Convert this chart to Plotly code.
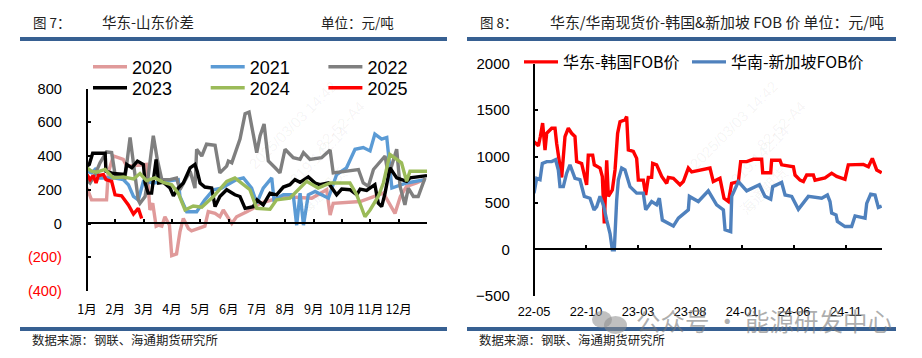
import plotly.graph_objects as go

W, H = 922, 358
months = ["1月","2月","3月","4月","5月","6月","7月","8月","9月","10月","11月","12月"]
left_yticks = [-400,-200,0,200,400,600,800]
left_ylabels = ['<span style="color:#ff0000">(400)</span>','<span style="color:#ff0000">(200)</span>',"0","200","400","600","800"]
right_xticks = [0,5,10,15,20,25,30]
right_xlabels = ["22-05","22-10","23-03","23-08","24-01","24-06","24-11"]

x2020 = [0,.16,.69,.75,.93,1.28,1.4,2.11,2.22,2.32,2.44,2.52,2.64,2.75,2.91,2.99,3.16,3.28,3.4,3.58,3.69,4.16,4.28,4.52,4.69,4.81,5.11,5.28,5.64,5.87,6.11,6.93,7.93,8.46,8.58,8.69,9.64,10.46,10.87,11.06,11.28,11.63,11.87]
y2020 = [210,140,140,300,400,380,340,350,80,120,-16,-10,-16,40,-10,-190,-180,-50,30,-30,-44,-16,70,60,40,80,0,40,70,90,120,160,150,200,50,120,130,180,60,160,220,240,260]
x2021 = [0,.16,.28,.46,.93,1.28,1.46,1.64,1.81,1.99,2.34,2.81,3.22,3.28,3.52,3.87,4.16,4.46,4.75,5.28,5.52,5.81,5.99,6.22,6.52,6.6,6.93,7.28,7.4,7.52,7.64,7.81,8.05,8.52,8.81,9.16,9.46,9.75,9.99,10.16,10.4,10.58,10.64,10.76,11.28,11.94]
y2021 = [310,300,320,270,270,260,230,160,140,250,240,250,260,160,70,70,140,200,210,260,270,210,120,210,270,140,170,170,-10,180,-10,170,190,150,290,330,440,450,430,530,500,510,400,210,240,260]
x2022 = [0,.11,.28,.46,.69,.87,.99,1.34,1.52,1.64,1.81,1.87,2.05,2.16,2.34,2.48,2.64,2.93,3.16,3.28,3.64,3.81,3.87,4.05,4.22,4.52,4.69,4.93,4.99,5.11,5.4,5.58,5.72,5.99,6.11,6.25,6.4,6.64,6.81,6.99,7.28,7.52,7.64,7.87,8.28,8.58,8.69,9.58,9.75,9.93,10.11,10.52,10.64,10.93,11.05,11.22,11.34,11.52,11.69,11.93]
y2022 = [260,240,290,360,424,420,290,270,510,340,140,120,160,280,520,380,260,260,270,200,310,210,440,400,470,464,300,340,370,360,500,650,660,420,520,590,370,330,300,440,390,380,420,380,390,436,300,320,240,220,320,400,280,440,220,110,210,160,160,270]
x2023 = [0,.08,.2,.64,.67,.93,1.34,1.4,1.58,1.78,1.99,2.05,2.16,2.28,2.44,2.53,2.69,2.93,3.05,3.22,3.4,3.64,3.81,3.89,3.99,4.16,4.4,4.52,4.69,4.93,5.22,5.4,5.58,5.87,6.0,6.22,6.46,6.69,6.93,7.16,7.34,7.52,7.81,8.05,8.22,8.52,8.81,8.99,9.28,9.52,9.64,9.87,10.16,10.28,10.4,10.52,10.69,10.93,11.28,11.4,12]
y2023 = [340,350,416,416,310,296,290,350,330,370,350,240,180,180,380,240,244,210,164,210,240,330,350,310,240,216,210,100,160,200,170,160,90,100,140,110,180,170,216,230,260,244,276,240,230,240,170,204,200,170,204,196,230,120,100,180,330,270,250,270,284]
x2024 = [0,.16,.34,.64,.93,1.28,1.64,1.87,2.1,2.4,2.69,2.99,3.22,3.46,3.75,4.05,4.46,4.93,5.22,5.58,5.75,5.99,6.46,6.69,7.16,7.75,8.16,8.58,9.28,9.52,9.81,9.99,10.28,10.46,10.69,11.1,11.28,11.4,12]
y2024 = [330,310,304,320,270,276,264,296,254,270,244,230,180,80,104,96,160,250,270,220,200,90,84,140,150,250,210,240,240,170,40,80,160,240,410,360,250,310,310]
x2025 = [0,.11,.22,.32,.4,.58,.67,.87,.99,1.22,1.46,1.64,1.81,1.93]
y2025 = [290,260,284,240,284,290,260,250,170,164,110,56,90,30]

x_east = [0,.42,.61,.83,1.06,1.22,1.7,2.02,2.18,2.34,2.66,2.98,3.3,3.62,3.94,4.1,4.58,5.06,5.22,5.64,5.8,6.35,6.57,6.76,6.99,7.15,7.53,7.79,8.04,8.27,8.75,8.91,9.07,9.55,9.87,10.03,10.51,10.74,10.99,11.31,11.41,11.79,12.28,12.76,12.92,13.4,14.04,14.36,14.84,15.16,15.8,16.92,17.24,17.88,18.27,18.69,19.0,19.65,19.87,20.45,21.09,21.89,21.99,22.76,22.85,23.65,23.81,24.94,25.1,25.58,25.9,26.22,26.86,27.02,27.98,28.62,29.1,29.9,30.22,31.67,32.15,32.53,32.95,33.43]
y_east = [1160,1115,1215,1360,1070,1250,1305,1305,1140,1000,775,1215,1305,1250,1215,945,925,695,1015,1015,910,875,785,280,960,570,640,855,1250,1375,1395,1430,1070,1055,980,745,745,585,775,775,925,910,785,710,775,765,695,730,875,835,850,875,730,765,550,515,710,730,945,945,970,970,825,825,960,960,910,890,800,745,730,800,800,745,770,820,785,755,910,915,890,980,855,825]
x_south = [0,.26,.58,.8,1.22,1.7,2.08,2.34,2.5,2.82,3.14,3.46,3.94,4.42,4.84,5.38,5.77,6.03,6.35,6.67,6.99,7.31,7.53,7.72,7.95,8.11,8.43,8.75,9.23,9.87,10.51,10.74,11.31,11.79,12.05,12.34,13.4,13.88,14.84,14.94,15.8,16.76,17.56,18.21,18.37,18.91,19.01,19.65,20.45,21.67,22.21,22.76,22.95,23.81,24.14,24.78,25.42,26.38,27.66,28.21,28.46,28.62,29.04,29.17,29.9,30.54,30.87,31.83,31.99,32.37,32.79,33.11,33.43]
y_south = [605,765,750,925,945,945,965,855,675,675,820,910,765,750,570,550,425,460,570,480,315,170,-5,-5,530,750,875,855,675,605,605,425,515,480,550,315,250,335,425,570,515,630,480,425,210,190,570,730,630,695,570,540,675,720,585,570,430,570,550,585,515,390,370,300,245,245,360,335,495,595,585,450,465]

BLUE_BAR = "#376092"
FONT = "Liberation Sans, Arial"
CJK = "Noto Sans CJK SC"

fig = go.Figure()
left = [("2020",x2020,y2020,"#e09a9a","legend"),("2021",x2021,y2021,"#5b9bd5","legend"),("2022",x2022,y2022,"#7f7f7f","legend"),
        ("2023",x2023,y2023,"#000000","legend2"),("2024",x2024,y2024,"#9bbb59","legend2"),("2025",x2025,y2025,"#ff0000","legend2")]
for name,x,y,c,lg in left:
    fig.add_trace(go.Scatter(x=x,y=y,name=name,mode="lines",line=dict(color=c,width=3.4),xaxis="x",yaxis="y",legend=lg))
fig.add_trace(go.Scatter(x=x_east,y=y_east,name="华东-韩国FOB价",mode="lines",line=dict(color="#ff0000",width=3.4),xaxis="x2",yaxis="y2",legend="legend3"))
fig.add_trace(go.Scatter(x=x_south,y=y_south,name="华南-新加坡FOB价",mode="lines",line=dict(color="#4f81bd",width=3.4),xaxis="x2",yaxis="y2",legend="legend4"))

def px(v): return v/W
def py(v): return 1-v/H

def leg(x,y,w,size,fam):
    return dict(orientation="h",x=px(x),y=py(y),xanchor="left",yanchor="middle",bgcolor="rgba(0,0,0,0)",
                entrywidth=w,entrywidthmode="pixels",font=dict(size=size,family=fam,color="#000"),itemwidth=34,tracegroupgap=0)

axis_common = dict(automargin=False,tickangle=0,showgrid=False,zeroline=False,showline=True,linecolor="#000",linewidth=2.2,ticks="inside",ticklen=3,tickwidth=2,tickcolor="#000")
fig.update_layout(
    width=W,height=H,margin=dict(l=0,r=0,t=0,b=0),paper_bgcolor="#fff",plot_bgcolor="rgba(0,0,0,0)",autosize=False,
    font=dict(family=FONT,color="#000"),
    showlegend=True,
    legend=leg(88,67,68.7,18,FONT),
    legend2=leg(88,88,68.7,18,FONT),
    legend3=leg(519,62,150,16,CJK),
    legend4=leg(687,62,170,16,CJK),
    xaxis=dict(domain=[px(87),px(427)],range=[0,12],tickvals=list(range(12)),ticktext=months,anchor="free",position=py(223),
               tickfont=dict(size=12.5,family=CJK),ticklabelstandoff=75,**axis_common),
    yaxis=dict(domain=[py(291),py(88.5)],range=[-400,800],tickvals=left_yticks,ticktext=left_ylabels,anchor="free",position=px(87),
               tickfont=dict(size=14.6),ticklabelstandoff=21,**axis_common),
    xaxis2=dict(domain=[px(534),px(882)],range=[0,33.46],tickvals=right_xticks,ticktext=right_xlabels,anchor="free",position=py(249.3),
                tickfont=dict(size=12.8),ticklabelstandoff=50,**axis_common),
    yaxis2=dict(domain=[py(295.7),py(63.7)],range=[-500,2000],dtick=500,anchor="free",position=px(534),
                tickfont=dict(size=15),ticklabelstandoff=20,**axis_common),
)

def bar(x0,x1,y0,y1):
    fig.add_shape(type="rect",xref="paper",yref="paper",x0=px(x0),x1=px(x1),y0=py(y1),y1=py(y0),fillcolor=BLUE_BAR,line_width=0,layer="above")
for a,b in ((20,447),(467,896)):
    bar(a,b,37,41); bar(a,b,327,331)

def txt(s,x,y,size=13,color="#222",fam=CJK,angle=0,anchor="left"):
    fig.add_annotation(text=s,xref="paper",yref="paper",x=px(x),y=py(y),xanchor=anchor,yanchor="middle",showarrow=False,
                       font=dict(size=size,family=fam,color=color),textangle=angle)

WM = "rgba(0,0,0,0.05)"
for dx in (0,441):
    txt("2025/03/03 14:42",292+dx,125,15,WM,FONT,-45,"center")
    txt("219.142.14",318+dx,155,15,WM,FONT,-45,"center")
    txt("82-52-A4",340+dx,125,15,WM,FONT,-45,"center")
    txt("海通期货",322+dx,190,15,WM,CJK,-45,"center")

txt("图 7\uff1a",31,22,13.5)
txt("华东-山东价差",100,22,14.5)
txt("单位\uff1a元/吨",319,22,13.5)
txt("图 8\uff1a",478,22,13.5)
txt("华东/华南现货价-韩国&新加坡 FOB 价 单位\uff1a元/吨",548,22,14.9)
txt("数据来源\uff1a钢联、海通期货研究所",30,340,12.4)
txt("数据来源\uff1a钢联、海通期货研究所",477,340,12.4)

fig.add_shape(type="circle",xref="paper",yref="paper",x0=px(592),x1=px(612),y0=py(328),y1=py(311),fillcolor="rgba(140,140,140,.55)",line_width=0)
fig.add_shape(type="circle",xref="paper",yref="paper",x0=px(604),x1=px(627),y0=py(334),y1=py(316),fillcolor="rgba(140,140,140,.55)",line_width=0)
txt("公众号 · 能源研发中心",634,320,24.5,"rgba(120,120,120,.6)",CJK)

fig.write_html("out.html", config={"displayModeBar":False}, post_script="document.body.style.margin='0';document.body.style.overflow='hidden';")
